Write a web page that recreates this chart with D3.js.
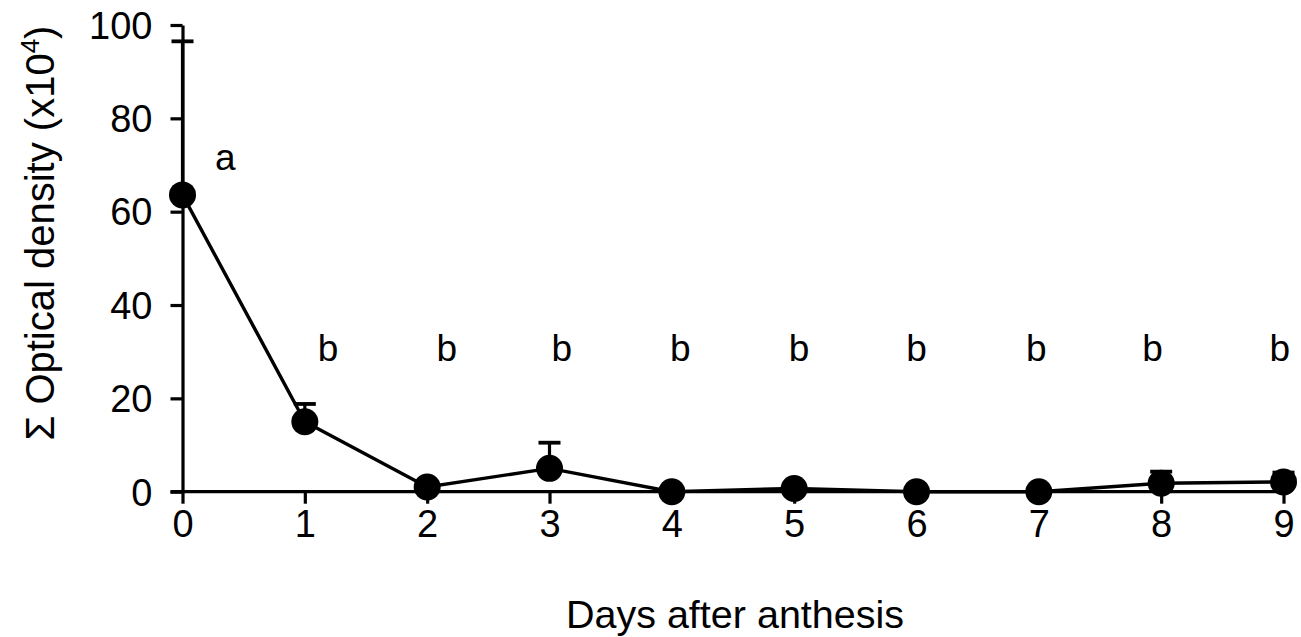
<!DOCTYPE html>
<html>
<head>
<meta charset="utf-8">
<script src="https://cdn.jsdelivr.net/npm/d3@7.9.0/dist/d3.min.js"></script>
<style>
  body { margin: 0; background: #fff; }
  svg { display: block; font-family: "Liberation Sans", Arial, sans-serif; }
  .axis path, .axis line { stroke: #000; stroke-width: 3.2; }
  .axis text { font-size: 38px; fill: #000; }
</style>
</head>
<body>
<div id="chart"></div>
<script>
// ---------- Data ----------
const days = [0, 1, 2, 3, 4, 5, 6, 7, 8, 9];
const density = [63.6, 15.0, 1.0, 5.0, 0, 0.7, 0, 0, 1.8, 2.1];
const errUp = [32.9, 3.8, 0, 5.5, 0, 0, 0, 0, 2.5, 2.0];
const letters = ["a", "b", "b", "b", "b", "b", "b", "b", "b", "b"];
const letterDay = [0.35, 1.19, 2.16, 3.1, 4.07, 5.04, 6.0, 6.98, 7.93, 8.97];
const letterVal = [69, 28, 28, 28, 28, 28, 28, 28, 28, 28];
const yTicks = [0, 20, 40, 60, 80, 100];

const width = 1301, height = 637;
const svg = d3.select("#chart").append("svg")
  .attr("width", width).attr("height", height);

const x = d3.scaleLinear().domain([0, 9]).range([182.5, 1283.5]);
const y = d3.scaleLinear().domain([0, 100]).range([491.7, 25]);

// ---------- Axes ----------
const gx = svg.append("g")
  .attr("class", "axis")
  .attr("transform", `translate(0,${y(0)})`)
  .call(d3.axisBottom(x).tickValues(days).tickSize(12).tickSizeOuter(0).tickPadding(6));
gx.select(".domain").remove();
gx.append("line")
  .attr("x1", x(0) - 12).attr("x2", x(9) + 2)
  .attr("stroke", "#000").attr("stroke-width", 3.2);

const gy = svg.append("g")
  .attr("class", "axis")
  .attr("transform", `translate(${x(0)},0)`)
  .call(d3.axisLeft(y).tickValues(yTicks).tickSize(12).tickSizeOuter(0).tickPadding(18));
gy.selectAll("text").attr("dy", "0.35em");

// ---------- Error bars ----------
const pts = days.map((d, i) => ({ day: d, v: density[i], e: errUp[i] }));
const eb = svg.append("g").selectAll("g")
  .data(pts.filter(d => d.e > 0))
  .join("g");
eb.append("line")
  .attr("x1", d => x(d.day)).attr("x2", d => x(d.day))
  .attr("y1", d => y(d.v)).attr("y2", d => y(d.v + d.e))
  .attr("stroke", "#000").attr("stroke-width", 3.2);
eb.append("line")
  .attr("x1", d => x(d.day) - 11).attr("x2", d => x(d.day) + 11)
  .attr("y1", d => y(d.v + d.e)).attr("y2", d => y(d.v + d.e))
  .attr("stroke", "#000").attr("stroke-width", 3.8);

// ---------- Line and points ----------
svg.append("path")
  .datum(pts)
  .attr("fill", "none")
  .attr("stroke", "#000")
  .attr("stroke-width", 3.4)
  .attr("d", d3.line().x(d => x(d.day)).y(d => y(d.v)));

svg.append("g").selectAll("circle")
  .data(pts)
  .join("circle")
  .attr("cx", d => x(d.day))
  .attr("cy", d => y(d.v))
  .attr("r", 13.5)
  .attr("fill", "#000");

// ---------- Significance letters ----------
svg.append("g").selectAll("text")
  .data(letters)
  .join("text")
  .attr("x", (d, i) => x(letterDay[i]))
  .attr("y", (d, i) => y(letterVal[i]))
  .attr("text-anchor", "middle")
  .attr("font-size", 37)
  .text(d => d);

// ---------- Axis titles ----------
svg.append("text")
  .attr("x", (x(0) + x(9)) / 2 + 2)
  .attr("y", 628)
  .attr("text-anchor", "middle")
  .attr("font-size", 39.5)
  .text("Days after anthesis");

const yt = svg.append("text")
  .attr("transform", `translate(54,233) rotate(-90)`)
  .attr("text-anchor", "middle")
  .attr("font-size", 40);
yt.append("tspan").text("Σ Optical density (x10");
yt.append("tspan").attr("font-size", 26).attr("dy", -15).text("4");
yt.append("tspan").attr("dy", 15).text(")");
</script>
</body>
</html>
